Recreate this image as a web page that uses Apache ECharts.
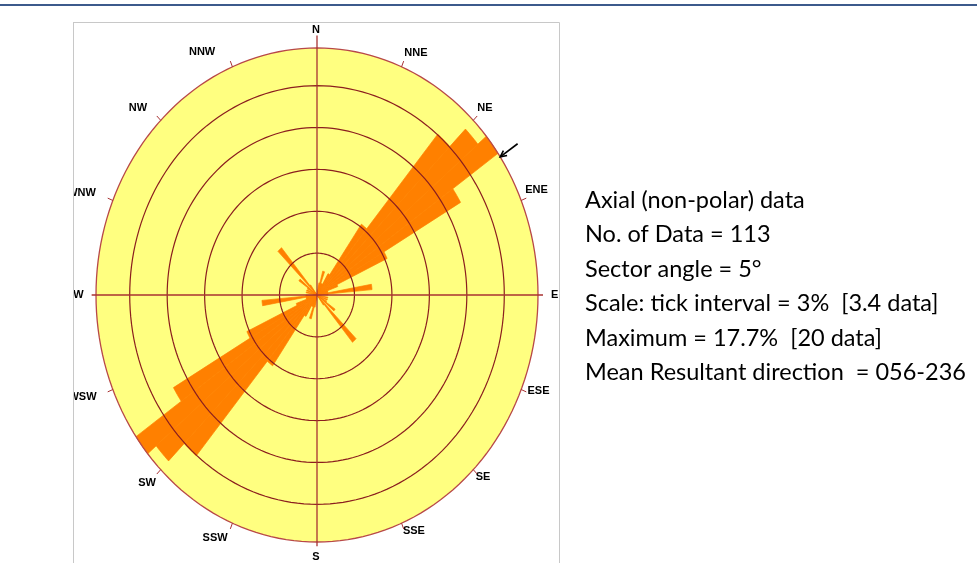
<!DOCTYPE html>
<html>
<head>
<meta charset="utf-8">
<script src="https://cdn.jsdelivr.net/npm/echarts@6/dist/echarts.min.js"></script>
<style>
  html, body { margin: 0; padding: 0; background: #ffffff; }
  #main { width: 977px; height: 563px; }
</style>
</head>
<body>
<div id="main"></div>
<script>
// Rose diagram of axial (non-polar) orientation data, 5° sectors.
const totalData = 113;
const sectorAngle = 5;
// Sector start angles (degrees clockwise from N); axial data, each sector is mirrored at +180°
const sectorStarts = [0, 5, 10, 15, 20, 25, 30, 35, 40, 45, 50, 55, 60, 65, 70, 75, 80, 85,
                      90, 95, 100, 105, 110, 115, 120, 125, 130, 135, 140, 145, 150, 155, 160, 165, 170, 175];
// Number of data in each sector
const sectorCounts = [0, 0, 1, 2, 1, 1, 2, 7, 17, 19, 20, 15, 7, 2, 1, 1, 5, 1,
                      0, 0, 1, 0, 1, 0, 1, 2, 0, 5, 1, 0, 0, 0, 0, 0, 0, 0];
// Scale rings (percent) and outer edge (maximum percent)
const ringPercents = [3, 6, 9, 12, 15];
const maxPercent = 17.7;
const compassLabels = ['N', 'NNE', 'NE', 'ENE', 'E', 'ESE', 'SE', 'SSE',
                       'S', 'SSW', 'SW', 'WSW', 'W', 'WNW', 'NW', 'NNW'];
const meanDirection = 56;
const infoLines = [
  'Axial (non-polar) data',
  'No. of Data = 113',
  'Sector angle = 5°',
  'Scale: tick interval = 3%  [3.4 data]',
  'Maximum = 17.7%  [20 data]',
  'Mean Resultant direction  = 056-236'
];

// label nudges in pixels, same order as compassLabels
const labelNudge = [[-1, 0], [8, 3], [0, 1], [0, -3], [0, 0], [2, -6], [-2, -6], [6, -9],
                    [-1, -4], [-11, -2], [-2, 0], [-15, 0], [-1, 0], [-16, 0], [-11, 1], [-24, 2]];

const YELLOW = '#FFFF80';
const ORANGE = '#FF8000';
const RING = '#8B1E1E';
const AXIS = '#A83232';
const rad = d => d * Math.PI / 180;
const polarPt = (r, deg) => [r * Math.sin(rad(deg)), r * Math.cos(rad(deg))];

// petal items: [startAngle, count], both ends of each axis
const petalData = [];
sectorStarts.forEach((s, i) => {
  const n = sectorCounts[i];
  if (n > 0) { petalData.push([s, n]); petalData.push([s + 180, n]); }
});

function ellipsePoints(api, r) {
  const pts = [];
  for (let k = 0; k <= 180; k++) pts.push(api.coord(polarPt(r, k * 2)));
  return pts;
}

const chart = echarts.init(document.getElementById('main'));
chart.setOption({
  animation: false,
  backgroundColor: '#ffffff',
  grid: { left: 96, top: 48, width: 442, height: 494 },
  xAxis: { type: 'value', min: -maxPercent, max: maxPercent, show: false },
  yAxis: { type: 'value', min: -maxPercent, max: maxPercent, show: false },
  graphic: [
    { type: 'rect', z: -10, shape: { x: 73.5, y: 22.5, width: 486, height: 560 },
      style: { fill: '#ffffff', stroke: '#c8c8c8', lineWidth: 1 } },
    { type: 'rect', z: 100, shape: { x: 0, y: 20, width: 73, height: 543 },
      style: { fill: '#ffffff' } },
    { type: 'line', z: 101, shape: { x1: 73.5, y1: 22, x2: 73.5, y2: 563 },
      style: { stroke: '#c8c8c8', lineWidth: 1 } },
    { type: 'line', z: 101, shape: { x1: 0, y1: 5, x2: 977, y2: 5 },
      style: { stroke: '#3C5A8C', lineWidth: 2 } },
    ...infoLines.map((t, i) => ({
      type: 'text', z: 50, x: 585, y: 200 + i * 34.5,
      style: { text: t, font: '23.5px Lato', fill: '#000000', textVerticalAlign: 'middle' }
    }))
  ],
  series: [
    { // plot background
      type: 'custom', z: 1, data: [[maxPercent]],
      renderItem: (p, api) => ({ type: 'polygon', shape: { points: ellipsePoints(api, api.value(0)) },
        style: { fill: YELLOW } })
    },
    { // petals
      type: 'custom', z: 2, data: petalData,
      renderItem: (p, api) => {
        const a0 = api.value(0), r = api.value(1) / totalData * 100;
        const pts = [api.coord([0, 0])];
        for (let k = 0; k <= 10; k++) pts.push(api.coord(polarPt(r, a0 + sectorAngle * k / 10)));
        return { type: 'polygon', shape: { points: pts },
          style: { fill: ORANGE, stroke: ORANGE, lineWidth: 0.7, lineJoin: 'miter' } };
      }
    },
    { // scale rings
      type: 'custom', z: 3, data: ringPercents.map(v => [v]),
      renderItem: (p, api) => ({ type: 'polyline', shape: { points: ellipsePoints(api, api.value(0)) },
        style: { stroke: RING, lineWidth: 1.2, fill: null } })
    },
    { // outer edge
      type: 'custom', z: 4, data: [[maxPercent]],
      renderItem: (p, api) => ({ type: 'polyline', shape: { points: ellipsePoints(api, api.value(0)) },
        style: { stroke: '#B84848', lineWidth: 1.3, fill: null } })
    },
    { // N-S and W-E axes
      type: 'custom', z: 4, data: [[0, 18.6, 0, -18.0], [-18.05, 0, 18.1, 0]],
      renderItem: (p, api) => {
        const a = api.coord([api.value(0), api.value(1)]), b = api.coord([api.value(2), api.value(3)]);
        return { type: 'line', shape: { x1: a[0], y1: a[1], x2: b[0], y2: b[1] },
          style: { stroke: AXIS, lineWidth: 1.3 } };
      }
    },
    { // compass ticks and labels
      type: 'custom', z: 5, data: compassLabels.map((l, i) => [i * 22.5]),
      renderItem: (p, api) => {
        const d = api.value(0);
        const lab = compassLabels[p.dataIndex];
        const nudge = labelNudge[p.dataIndex];
        const t0 = api.coord(polarPt(maxPercent, d)), t1 = api.coord(polarPt(maxPercent * 1.025, d));
        const c = api.coord(polarPt(maxPercent * 1.075, d));
        const children = [{ type: 'text', x: c[0] + nudge[0], y: c[1] + nudge[1],
          style: { text: lab, font: 'bold 11px "Liberation Sans"', fill: '#000000',
                   textAlign: 'center', textVerticalAlign: 'middle' } }];
        if (d % 90 !== 0) children.push({ type: 'line', shape: { x1: t0[0], y1: t0[1], x2: t1[0], y2: t1[1] },
          style: { stroke: AXIS, lineWidth: 1 } });
        return { type: 'group', children };
      }
    },
    { // mean resultant direction marker
      type: 'custom', z: 6, data: [[meanDirection]],
      renderItem: (p, api) => {
        const d = api.value(0);
        const tip = api.coord(polarPt(maxPercent * 1.0, d));
        const tail = api.coord(polarPt(maxPercent * 1.095, d));
        const ang = Math.atan2(tail[1] - tip[1], tail[0] - tip[0]);
        const h = 7, w = 0.45;
        const p1 = [tip[0] + h * Math.cos(ang + w), tip[1] + h * Math.sin(ang + w)];
        const p2 = [tip[0] + h * Math.cos(ang - w), tip[1] + h * Math.sin(ang - w)];
        return { type: 'group', children: [
          { type: 'line', shape: { x1: tip[0], y1: tip[1], x2: tail[0], y2: tail[1] },
            style: { stroke: '#000000', lineWidth: 1.6 } },
          { type: 'polyline', shape: { points: [p1, tip, p2] },
            style: { stroke: '#000000', lineWidth: 1.6, fill: null } }
        ] };
      }
    }
  ]
});
</script>
</body>
</html>
